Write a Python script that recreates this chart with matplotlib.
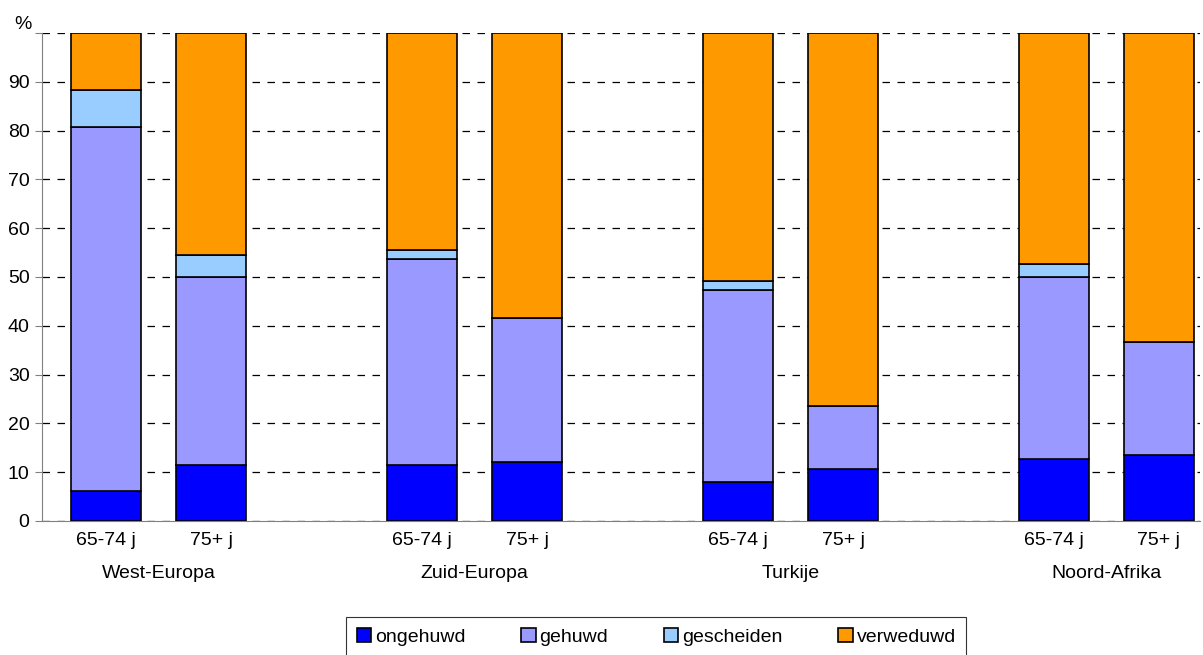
import numpy as np
import matplotlib
matplotlib.use("Agg")
import matplotlib.pyplot as plt

plt.rcParams["font.family"] = ["Liberation Sans", "DejaVu Sans"]

regions = ["West-Europa", "Zuid-Europa", "Turkije", "Noord-Afrika"]
ages = ["65-74 j", "75+ j"]
series = ["ongehuwd", "gehuwd", "gescheiden", "verweduwd"]
colors = ["#0000ff", "#9999ff", "#99ccff", "#ff9900"]

# per bar: West 65-74, West 75+, Zuid 65-74, Zuid 75+, Turkije ..., Noord-Afrika ...
ongehuwd = [6.2, 11.5, 11.5, 12.1, 7.9, 10.6, 12.8, 13.5]
gehuwd = [74.5, 38.5, 42.2, 29.5, 39.4, 13.0, 37.1, 23.1]
gescheiden = [7.7, 4.5, 1.8, 0.0, 1.9, 0.0, 2.8, 0.0]
verweduwd = [11.6, 45.5, 44.5, 58.4, 50.8, 76.4, 47.3, 63.4]

data = np.array([ongehuwd, gehuwd, gescheiden, verweduwd])

# two bars per region, one empty slot between regions
pos = np.array([g * 3 + j for g in range(len(regions)) for j in range(len(ages))])

fig = plt.figure(figsize=(12.03, 6.55), dpi=100)
ax = fig.add_axes([0.0349, 0.2046, 0.9626, 0.745])

bottom = np.zeros(len(pos))
for name, vals, col in zip(series, data, colors):
    ax.bar(pos, vals, width=0.665, bottom=bottom, color=col,
           edgecolor="black", linewidth=1.2, label=name, zorder=3)
    bottom += vals

ax.set_ylim(0, 100)
ax.set_xlim(-0.61, 10.39)
ax.set_yticks(range(0, 101, 10))
ax.set_yticklabels([str(v) for v in range(0, 91, 10)] + [""], fontsize=14)
ax.yaxis.grid(True, linestyle=(0, (6, 6)), color="black", linewidth=0.9, zorder=0)
ax.tick_params(axis="y", direction="out", length=5, color="#808080", pad=4)

ax.set_xticks(pos)
ax.set_xticklabels(ages * len(regions), fontsize=14)
ax.tick_params(axis="x", length=0, pad=8)

for s in ["top", "right"]:
    ax.spines[s].set_visible(False)
for s in ["left", "bottom"]:
    ax.spines[s].set_color("#808080")

for g, reg in enumerate(regions):
    ax.text(g * 3 + 0.5, -9.0, reg, ha="center", va="top", fontsize=14,
            transform=ax.transData)

fig.text(0.012, 0.962, "%", fontsize=14, va="center")

leg = fig.legend(loc="upper center", bbox_to_anchor=(0.5455, 0.058), ncol=4,
                 fontsize=14, handlelength=0.75, handleheight=0.75,
                 handletextpad=0.2, columnspacing=2.85, borderpad=0.55,
                 borderaxespad=0, frameon=True, fancybox=False)
leg.get_frame().set_edgecolor("black")
leg.get_frame().set_linewidth(0.8)

fig.savefig("out.png", dpi=100)
